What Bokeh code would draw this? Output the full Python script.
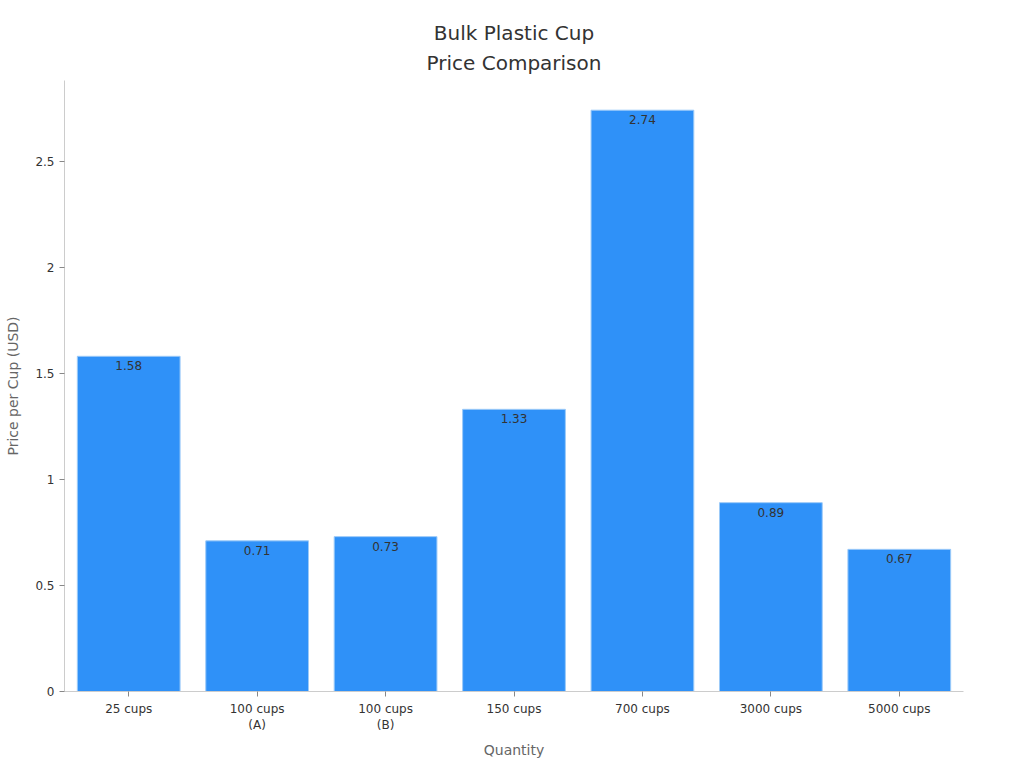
from bokeh.plotting import figure
from bokeh.models import ColumnDataSource, Range1d, FactorRange, Title, LabelSet
from bokeh.core.properties import value
from bokeh.embed import file_html
from bokeh.resources import INLINE

categories = ["25 cups", "100 cups\n(A)", "100 cups\n(B)", "150 cups", "700 cups", "3000 cups", "5000 cups"]
prices = [1.58, 0.71, 0.73, 1.33, 2.74, 0.89, 0.67]
labels = ["1.58", "0.71", "0.73", "1.33", "2.74", "0.89", "0.67"]
y_ticks = [0, 0.5, 1, 1.5, 2, 2.5]
title_lines = ["Bulk Plastic Cup", "Price Comparison"]

FONT = "DejaVu Sans"
W, H = 1016, 762

src = ColumnDataSource(dict(cat=categories, price=prices, label=labels))

p = figure(width=W, height=H, output_backend="svg", toolbar_location=None,
           x_range=FactorRange(*categories, range_padding=0),
           y_range=Range1d(0, 2.88),
           min_border_left=64, min_border_right=W - 963, min_border_top=80, min_border_bottom=H - 691)
p.title = None
p.outline_line_color = None
p.background_fill_color = "white"
p.border_fill_color = "white"
p.xgrid.grid_line_color = None
p.ygrid.grid_line_color = None

p.vbar(x="cat", top="price", width=0.8, source=src,
       fill_color="#2f91f8", line_color="#9ccaf8", line_width=1)

lab = LabelSet(x="cat", y="price", text="label", source=src, text_align="center",
               text_baseline="top", y_offset=-5, text_font=value(FONT), text_font_size="12px",
               text_color="#333333")
p.add_layout(lab)

t2 = Title(text=title_lines[1], align="center", text_font=FONT, text_font_size="20px",
           text_font_style="normal", text_color="#333333", standoff=12)
t1 = Title(text=title_lines[0], align="center", text_font=FONT, text_font_size="20px",
           text_font_style="normal", text_color="#333333", standoff=-4)
p.add_layout(t2, "above")
p.add_layout(t1, "above")

for ax in (p.xaxis[0], p.yaxis[0]):
    ax.axis_line_color = "#cccccc"
    ax.major_tick_line_color = "#888888"
    ax.minor_tick_line_color = None
    ax.major_tick_out = 5
    ax.major_tick_in = 0
    ax.major_label_text_font = FONT
    ax.major_label_text_font_size = "12px"
    ax.major_label_text_color = "#333333"
    ax.axis_label_text_font = FONT
    ax.axis_label_text_font_size = "14px"
    ax.axis_label_text_font_style = "normal"
    ax.axis_label_text_color = "#666666"

p.yaxis.ticker = y_ticks
p.yaxis.major_label_overrides = {0: "0", 0.5: "0.5", 1: "1", 1.5: "1.5", 2: "2", 2.5: "2.5"}
p.xaxis.axis_label = "Quantity"
p.yaxis.axis_label = "Price per Cup (USD)"
p.xaxis.axis_label_standoff = 7
p.yaxis.axis_label_standoff = 11

open("out.html", "w").write(file_html(p, INLINE))
